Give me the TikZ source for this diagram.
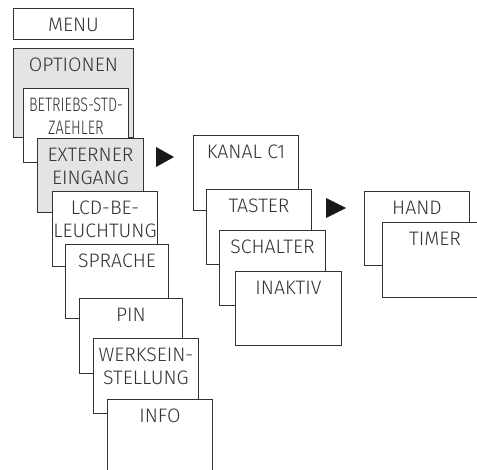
\documentclass[tikz,border=0pt]{standalone}
\usepackage{fontspec}
\setmainfont{Fira Sans Light}
\definecolor{ln}{HTML}{333333}
\definecolor{gr}{HTML}{E4E4E6}
\tikzset{
  box/.style={draw=ln, line width=0.9bp, fill=white, inner sep=0pt},
  gbox/.style={box, fill=gr},
  lbl/.style={inner sep=0pt, text=ln, align=center, font=\fontsize{19.5bp}{23bp}\selectfont},
  tri/.style={fill=black!90}
}
\newcommand\mkbox[7]{%
  \node[#6, minimum width=#4bp, minimum height=#5bp, anchor=north west] (#1) at (#2,#3) {};
  \node[lbl, anchor=north] (#1-t) at ([yshift=-10bp]#1.north) {#7};}
\begin{document}
\begin{tikzpicture}[x=1bp,y=-1bp]
\useasboundingbox (0,0) rectangle (477,470);
\clip (0,0) rectangle (477,470);
\mkbox{menu}{13}{8}{120}{31}{box}{MENU}
\mkbox{opt}{13}{48}{120}{89}{gbox}{OPTIONEN}
\mkbox{betr}{23}{88}{105}{74}{box}{\scalebox{0.74}[1]{BETRIEBS-STD-}\\\scalebox{0.74}[1]{ZAEHLER}}
\mkbox{ext}{37}{138}{106}{74}{gbox}{EXTERNER\\EINGANG}
\mkbox{lcd}{52}{191}{105}{75}{box}{LCD-BE-\\LEUCHTUNG}
\mkbox{spr}{65}{244}{103}{74}{box}{SPRACHE}
\mkbox{pin}{79}{298}{103}{75}{box}{PIN}
\mkbox{werk}{93}{338}{105}{75}{box}{WERKSEIN-\\STELLUNG}
\mkbox{info}{107}{399}{105}{100}{box}{INFO}
\mkbox{kanal}{193}{135}{105}{75}{box}{KANAL C1}
\mkbox{taster}{206}{189}{105}{75}{box}{TASTER}
\mkbox{schalter}{219}{230}{106}{75}{box}{SCHALTER}
\mkbox{inaktiv}{235}{271}{106}{74}{box}{INAKTIV}
\mkbox{hand}{364}{191}{105}{74}{box}{HAND}
\mkbox{timer}{382}{222}{105}{75}{box}{TIMER}
\coordinate (a1) at (156,147);
\coordinate (a2) at (326,198);
\fill[tri] (a1) -- ++(0,20) -- ++(18,-10) -- cycle;
\fill[tri] (a2) -- ++(0,20) -- ++(20,-10) -- cycle;
\end{tikzpicture}
\end{document}
